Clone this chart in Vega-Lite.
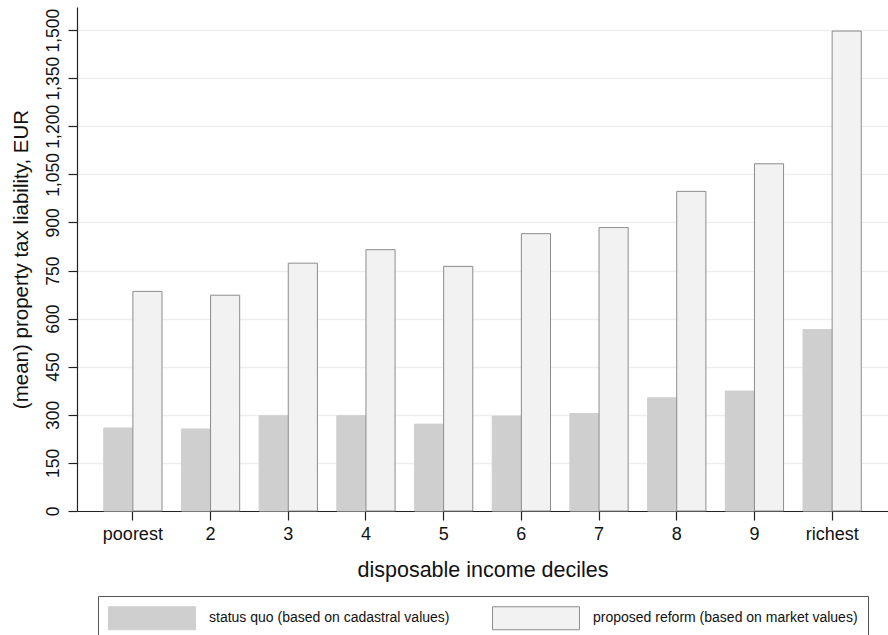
{
  "$schema": "https://vega.github.io/schema/vega-lite/v6.json",
  "width": 811,
  "height": 504,
  "autosize": "none",
  "padding": {"left": 77, "top": 7, "right": 0, "bottom": 124},
  "background": "white",
  "config": {
    "font": "Liberation Sans",
    "view": {"stroke": null},
    "axis": {"labelColor": "#111", "titleColor": "#111", "titleFontWeight": "normal", "domainColor": "#222", "tickColor": "#222", "domainWidth": 1.2, "tickWidth": 1.2}
  },
  "data": {
    "values": [
      {"decile": "poorest", "series": "status quo (based on cadastral values)", "value": 259},
      {"decile": "poorest", "series": "proposed reform (based on market values)", "value": 685},
      {"decile": "2", "series": "status quo (based on cadastral values)", "value": 256},
      {"decile": "2", "series": "proposed reform (based on market values)", "value": 673},
      {"decile": "3", "series": "status quo (based on cadastral values)", "value": 297},
      {"decile": "3", "series": "proposed reform (based on market values)", "value": 773},
      {"decile": "4", "series": "status quo (based on cadastral values)", "value": 297},
      {"decile": "4", "series": "proposed reform (based on market values)", "value": 815},
      {"decile": "5", "series": "status quo (based on cadastral values)", "value": 271},
      {"decile": "5", "series": "proposed reform (based on market values)", "value": 763},
      {"decile": "6", "series": "status quo (based on cadastral values)", "value": 296},
      {"decile": "6", "series": "proposed reform (based on market values)", "value": 865},
      {"decile": "7", "series": "status quo (based on cadastral values)", "value": 304},
      {"decile": "7", "series": "proposed reform (based on market values)", "value": 884},
      {"decile": "8", "series": "status quo (based on cadastral values)", "value": 353},
      {"decile": "8", "series": "proposed reform (based on market values)", "value": 997},
      {"decile": "9", "series": "status quo (based on cadastral values)", "value": 374},
      {"decile": "9", "series": "proposed reform (based on market values)", "value": 1083},
      {"decile": "richest", "series": "status quo (based on cadastral values)", "value": 566},
      {"decile": "richest", "series": "proposed reform (based on market values)", "value": 1497}
    ]
  },
  "mark": {"type": "bar", "strokeWidth": 1},
  "encoding": {
    "x": {
      "field": "decile",
      "type": "nominal",
      "sort": ["poorest", "2", "3", "4", "5", "6", "7", "8", "9", "richest"],
      "scale": {"paddingInner": 0.25, "paddingOuter": 0.344},
      "axis": {"title": "disposable income deciles", "titleFontSize": 21.5, "labelFontSize": 18, "labelAngle": 0, "tickSize": 9, "labelPadding": 5, "titlePadding": 16, "grid": false}
    },
    "xOffset": {
      "field": "series",
      "type": "nominal",
      "sort": ["status quo (based on cadastral values)", "proposed reform (based on market values)"]
    },
    "y": {
      "field": "value",
      "type": "quantitative",
      "scale": {"domain": [0, 1572], "nice": false, "zero": true},
      "axis": {
        "title": "(mean) property tax liability, EUR",
        "titleFontSize": 20.5,
        "labelFontSize": 17.5,
        "values": [0, 150, 300, 450, 600, 750, 900, 1050, 1200, 1350, 1500],
        "format": ",.0f",
        "labelAngle": -90,
        "labelAlign": "center",
        "labelBaseline": "bottom",
        "tickSize": 9,
        "labelPadding": 6,
        "titlePadding": 13,
        "grid": true,
        "gridColor": "#eeeeee",
        "gridWidth": 1.5
      }
    },
    "fill": {
      "field": "series",
      "type": "nominal",
      "scale": {"domain": ["status quo (based on cadastral values)", "proposed reform (based on market values)"], "range": ["#cfcfcf", "#f2f2f2"]},
      "legend": {"title": null, "orient": "none", "legendX": 21, "legendY": 589, "direction": "horizontal", "padding": 10, "strokeColor": "#555", "fillColor": "white", "symbolType": "M-3.78,-1H3.78V1H-3.78Z", "symbolSize": 529, "symbolOffset": 32, "symbolStrokeWidth": 1, "labelFontSize": 14, "labelOffset": 45, "columnPadding": 40, "labelColor": "#111", "labelLimit": 400}
    },
    "stroke": {
      "field": "series",
      "type": "nominal",
      "scale": {"domain": ["status quo (based on cadastral values)", "proposed reform (based on market values)"], "range": ["#cfcfcf", "#8c8c8c"]},
      "legend": {"title": null, "orient": "none", "legendX": 21, "legendY": 589, "direction": "horizontal", "padding": 10, "strokeColor": "#555", "fillColor": "white", "symbolType": "M-3.78,-1H3.78V1H-3.78Z", "symbolSize": 529, "symbolOffset": 32, "symbolStrokeWidth": 1, "labelFontSize": 14, "labelOffset": 45, "columnPadding": 40, "labelColor": "#111", "labelLimit": 400}
    }
  }
}
